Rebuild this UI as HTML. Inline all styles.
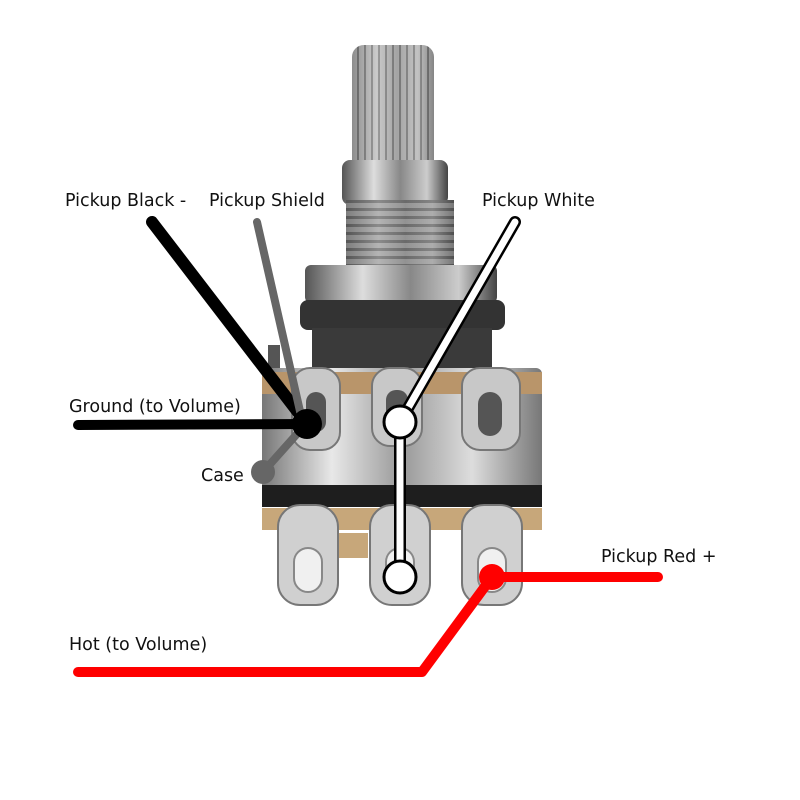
<!DOCTYPE html>
<html><head><meta charset="utf-8"><style>
html,body{margin:0;padding:0;background:#fff;}
svg{display:block;}
text{font-family:"DejaVu Sans","Liberation Sans",sans-serif;font-size:17.5px;fill:#111;}
</style></head><body>
<svg width="800" height="800" viewBox="0 0 800 800" xmlns="http://www.w3.org/2000/svg">
<defs>
<linearGradient id="met" x1="0" x2="1" y1="0" y2="0">
<stop offset="0" stop-color="#555"/><stop offset="0.3" stop-color="#ddd"/><stop offset="0.55" stop-color="#888"/><stop offset="0.8" stop-color="#ccc"/><stop offset="1" stop-color="#444"/>
</linearGradient>
<linearGradient id="body" x1="0" x2="1" y1="0" y2="0">
<stop offset="0" stop-color="#777"/><stop offset="0.25" stop-color="#e8e8e8"/><stop offset="0.5" stop-color="#999"/><stop offset="0.75" stop-color="#ddd"/><stop offset="1" stop-color="#777"/>
</linearGradient>
<pattern id="knurl" width="7" height="10" patternUnits="userSpaceOnUse">
<rect width="7" height="10" fill="#bbb"/><rect width="2" height="10" fill="#666"/>
</pattern>
<pattern id="thread" width="10" height="8" patternUnits="userSpaceOnUse">
<rect width="10" height="8" fill="#999"/><rect width="10" height="3" fill="#555"/>
</pattern>
</defs>
<rect x="352" y="45" width="82" height="130" rx="12" fill="url(#knurl)"/>
<rect x="352" y="45" width="82" height="130" rx="12" fill="url(#met)" opacity="0.45"/>
<rect x="342" y="160" width="106" height="45" rx="8" fill="url(#met)"/>
<rect x="346" y="200" width="108" height="68" fill="url(#thread)"/>
<rect x="346" y="200" width="108" height="68" fill="url(#met)" opacity="0.4"/>
<rect x="305" y="265" width="192" height="38" rx="6" fill="url(#met)"/>
<rect x="300" y="300" width="205" height="30" rx="8" fill="#333"/>
<rect x="312" y="328" width="180" height="40" fill="#3a3a3a"/>
<rect x="268" y="345" width="12" height="30" fill="#555"/>
<rect x="262" y="368" width="280" height="122" rx="6" fill="url(#body)"/>
<rect x="262" y="372" width="280" height="22" fill="#b9956a"/>
<rect x="262" y="485" width="280" height="22" fill="#1e1e1e"/>
<rect x="262" y="508" width="280" height="22" fill="#c7a77a"/>
<rect x="338" y="533" width="30" height="25" fill="#c7a77a"/>
<g fill="#c8c8c8" stroke="#777" stroke-width="2">
<rect x="292" y="368" width="48" height="82" rx="18"/>
<rect x="372" y="368" width="50" height="78" rx="18"/>
<rect x="462" y="368" width="58" height="82" rx="18"/>
</g>
<g fill="#555">
<rect x="306" y="392" width="20" height="40" rx="10"/>
<rect x="386" y="390" width="22" height="40" rx="10"/>
<rect x="478" y="392" width="24" height="44" rx="12"/>
</g>
<g fill="#d0d0d0" stroke="#777" stroke-width="2">
<rect x="278" y="505" width="60" height="100" rx="22"/>
<rect x="370" y="505" width="60" height="100" rx="22"/>
<rect x="462" y="505" width="60" height="100" rx="22"/>
</g>
<g fill="#f0f0f0" stroke="#888" stroke-width="2">
<rect x="294" y="548" width="28" height="44" rx="14"/>
<rect x="386" y="548" width="28" height="44" rx="14"/>
<rect x="478" y="548" width="28" height="44" rx="14"/>
</g>
<line x1="152" y1="222" x2="307" y2="424" stroke="#000" stroke-width="12" stroke-linecap="round"/>
<line x1="78" y1="425" x2="307" y2="424" stroke="#000" stroke-width="10" stroke-linecap="round"/>
<line x1="257" y1="222" x2="302" y2="420" stroke="#666" stroke-width="8" stroke-linecap="round"/>
<line x1="263" y1="472" x2="305" y2="425" stroke="#666" stroke-width="8" stroke-linecap="round"/>
<circle cx="263" cy="472" r="12" fill="#666"/>
<circle cx="307" cy="424" r="15" fill="#000"/>
<line x1="515" y1="222" x2="400" y2="422" stroke="#000" stroke-width="12" stroke-linecap="round"/>
<line x1="515" y1="222" x2="400" y2="422" stroke="#fff" stroke-width="7" stroke-linecap="round"/>
<line x1="400" y1="422" x2="400" y2="577" stroke="#000" stroke-width="12"/>
<line x1="400" y1="422" x2="400" y2="577" stroke="#fff" stroke-width="7"/>
<circle cx="400" cy="422" r="16" fill="#fff" stroke="#000" stroke-width="3"/>
<circle cx="400" cy="577" r="16" fill="#fff" stroke="#000" stroke-width="3"/>
<polyline points="78,672 422,672 492,577 658,577" fill="none" stroke="#f00" stroke-width="10" stroke-linecap="round" stroke-linejoin="round"/>
<circle cx="492" cy="577" r="13" fill="#f00"/>
<text x="65" y="206">Pickup Black -</text>
<text x="209" y="206">Pickup Shield</text>
<text x="482" y="206">Pickup White</text>
<text x="69" y="412">Ground (to Volume)</text>
<text x="201" y="481">Case</text>
<text x="601" y="562">Pickup Red +</text>
<text x="69" y="650">Hot (to Volume)</text>
</svg>
</body></html>
